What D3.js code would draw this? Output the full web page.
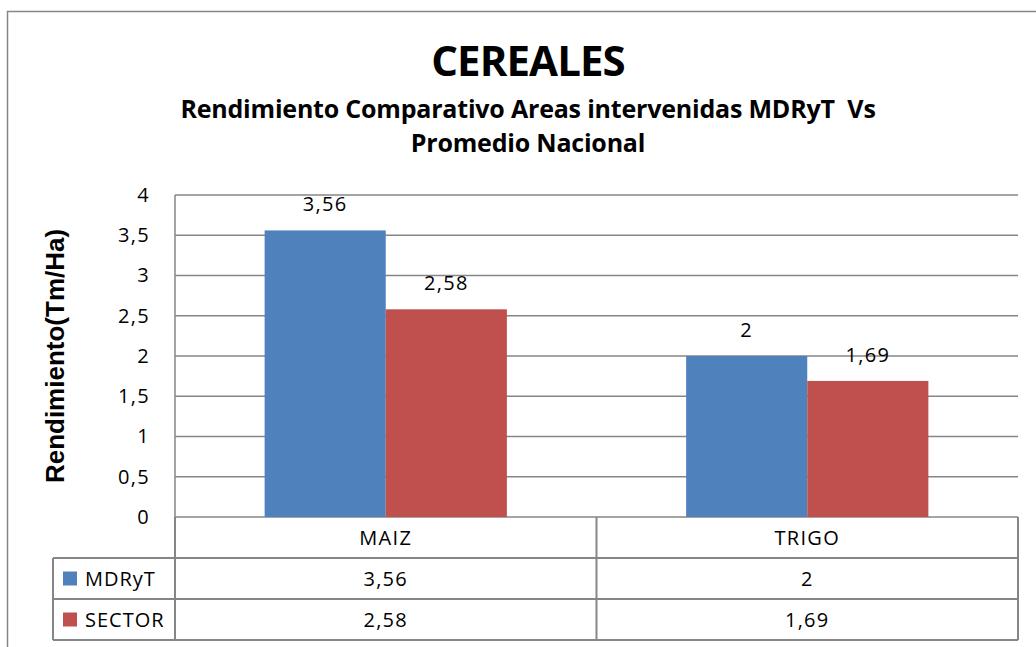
<!DOCTYPE html>
<html>
<head>
<meta charset="utf-8">
<script src="https://cdn.jsdelivr.net/npm/d3@7"></script>
<style>
  body { margin: 0; background: #fff; }
  text { font-family: "Open Sans", "Noto Sans", sans-serif; fill: #000; }
</style>
</head>
<body>
<div id="chart"></div>
<script>
var svgWidth = 1036;
var svgHeight = 647;

// chart data
var categories = ["MAIZ", "TRIGO"];
var seriesNames = ["MDRyT", "SECTOR"];
var mdrytValues = [3.56, 2];
var sectorValues = [2.58, 1.69];
var yTicks = [0, 0.5, 1, 1.5, 2, 2.5, 3, 3.5, 4];
var colors = ["#4f81bd", "#c0504d"];

var fmt = function(v) { return String(v).replace(".", ","); };

var plot = { left: 175, right: 1018, top: 195, bottom: 517 };
var rowH = 41;
var labelSize = "20px";
var labelSpacing = "1.3px";

var svg = d3.select("#chart")
  .append("svg")
  .attr("width", svgWidth)
  .attr("height", svgHeight);

// outer chart border (runs off the window, as in the source)
svg.append("rect")
  .attr("x", 7.5).attr("y", 11.5)
  .attr("width", 1100).attr("height", 700)
  .attr("fill", "none")
  .attr("stroke", "#868686")
  .attr("stroke-width", 1.5);

// titles
svg.append("text")
  .attr("x", 528).attr("y", 76)
  .attr("text-anchor", "middle")
  .style("font-size", "42px").style("font-weight", "bold")
  .style("letter-spacing", "-0.9px")
  .text("CEREALES");

svg.append("text")
  .attr("x", 528).attr("y", 118)
  .attr("text-anchor", "middle")
  .style("font-size", "25px").style("font-weight", "bold")
  .style("letter-spacing", "-0.2px")
  .style("white-space", "pre")
  .text("Rendimiento Comparativo Areas intervenidas MDRyT  Vs");

svg.append("text")
  .attr("x", 528).attr("y", 152)
  .attr("text-anchor", "middle")
  .style("font-size", "25px").style("font-weight", "bold")
  .style("letter-spacing", "-0.2px")
  .text("Promedio Nacional");

// scales
var x0 = d3.scaleBand()
  .domain(categories)
  .range([plot.left, plot.right]);

var x1 = d3.scaleBand()
  .domain(seriesNames)
  .range([0, x0.bandwidth()])
  .paddingOuter(0.74)
  .paddingInner(0);

var y = d3.scaleLinear()
  .domain([0, 4])
  .range([plot.bottom, plot.top]);

// gridlines
svg.append("g")
  .selectAll("line")
  .data(yTicks)
  .enter()
  .append("line")
  .attr("x1", plot.left).attr("x2", plot.right)
  .attr("y1", d => y(d)).attr("y2", d => y(d))
  .attr("stroke", "#868686")
  .attr("stroke-width", 1.5);

// left axis line
svg.append("line")
  .attr("x1", plot.left).attr("x2", plot.left)
  .attr("y1", plot.top).attr("y2", plot.bottom)
  .attr("stroke", "#868686").attr("stroke-width", 1.5);

// y tick labels
var leftAxis = d3.axisLeft(y)
  .tickValues(yTicks)
  .tickFormat(fmt)
  .tickSize(0)
  .tickPadding(25);

var yAxis = svg.append("g")
  .attr("transform", `translate(${plot.left}, 0)`)
  .call(leftAxis);
yAxis.select(".domain").remove();
yAxis.selectAll("text")
  .style("font-family", "'Open Sans', sans-serif")
  .style("font-size", labelSize)
  .style("letter-spacing", labelSpacing)
  .attr("fill", "#000");

// y axis title
svg.append("text")
  .attr("transform", `translate(64, ${(plot.top + plot.bottom) / 2}) rotate(-90)`)
  .attr("text-anchor", "middle")
  .style("font-family", "'Liberation Sans', Arial, sans-serif")
  .style("font-size", "26px").style("font-weight", "bold")
  .text("Rendimiento(Tm/Ha)");

// bars
var rows = categories.map((c, i) => ({
  cat: c,
  vals: [{ s: seriesNames[0], v: mdrytValues[i] }, { s: seriesNames[1], v: sectorValues[i] }]
}));

var groups = svg.append("g")
  .selectAll("g")
  .data(rows)
  .enter()
  .append("g")
  .attr("transform", d => `translate(${x0(d.cat)}, 0)`);

groups.selectAll("rect")
  .data(d => d.vals)
  .enter()
  .append("rect")
  .attr("x", d => x1(d.s))
  .attr("y", d => y(d.v))
  .attr("width", x1.bandwidth())
  .attr("height", d => y(0) - y(d.v))
  .attr("fill", (d, i) => colors[i]);

// value labels above bars
groups.selectAll("text.val")
  .data(d => d.vals)
  .enter()
  .append("text")
  .attr("class", "val")
  .attr("x", d => x1(d.s) + x1.bandwidth() / 2)
  .attr("y", d => y(d.v) - 19)
  .attr("text-anchor", "middle")
  .style("font-size", labelSize)
  .style("letter-spacing", labelSpacing)
  .text(d => fmt(d.v));

// data table under the plot
var tbl = svg.append("g");
var tableLeft = 53;
var lineColor = "#868686";

[
  [plot.left, plot.bottom + rowH],
  [tableLeft, plot.bottom + rowH],
  [tableLeft, plot.bottom + rowH * 2],
  [tableLeft, plot.bottom + rowH * 3]
].forEach(function(p) {
  tbl.append("line")
    .attr("x1", p[0]).attr("x2", plot.right)
    .attr("y1", p[1]).attr("y2", p[1])
    .attr("stroke", lineColor).attr("stroke-width", 2);
});

[
  [tableLeft, plot.bottom + rowH],
  [plot.left, plot.bottom],
  [x0("TRIGO"), plot.bottom],
  [plot.right, plot.bottom]
].forEach(function(p) {
  tbl.append("line")
    .attr("x1", p[0]).attr("x2", p[0])
    .attr("y1", p[1]).attr("y2", plot.bottom + rowH * 3)
    .attr("stroke", lineColor).attr("stroke-width", 2);
});

// category header row
tbl.selectAll("text.cat")
  .data(categories)
  .enter()
  .append("text")
  .attr("x", d => x0(d) + x0.bandwidth() / 2)
  .attr("y", plot.bottom + rowH / 2 + 7)
  .attr("text-anchor", "middle")
  .style("font-size", labelSize)
  .style("letter-spacing", labelSpacing)
  .text(d => d);

// series rows with legend keys
var seriesVals = [mdrytValues, sectorValues];
seriesNames.forEach(function(name, si) {
  var cy = plot.bottom + rowH * (si + 1) + rowH / 2;
  tbl.append("rect")
    .attr("x", 63).attr("y", cy - 7)
    .attr("width", 14).attr("height", 14)
    .attr("fill", colors[si]);
  tbl.append("text")
    .attr("x", 85).attr("y", cy + 7)
    .style("font-size", labelSize)
    .style("letter-spacing", "1px")
    .text(name);
  categories.forEach(function(c, ci) {
    tbl.append("text")
      .attr("x", x0(c) + x0.bandwidth() / 2)
      .attr("y", cy + 7)
      .attr("text-anchor", "middle")
      .style("font-size", labelSize)
      .style("letter-spacing", labelSpacing)
      .text(fmt(seriesVals[si][ci]));
  });
});
</script>
</body>
</html>
